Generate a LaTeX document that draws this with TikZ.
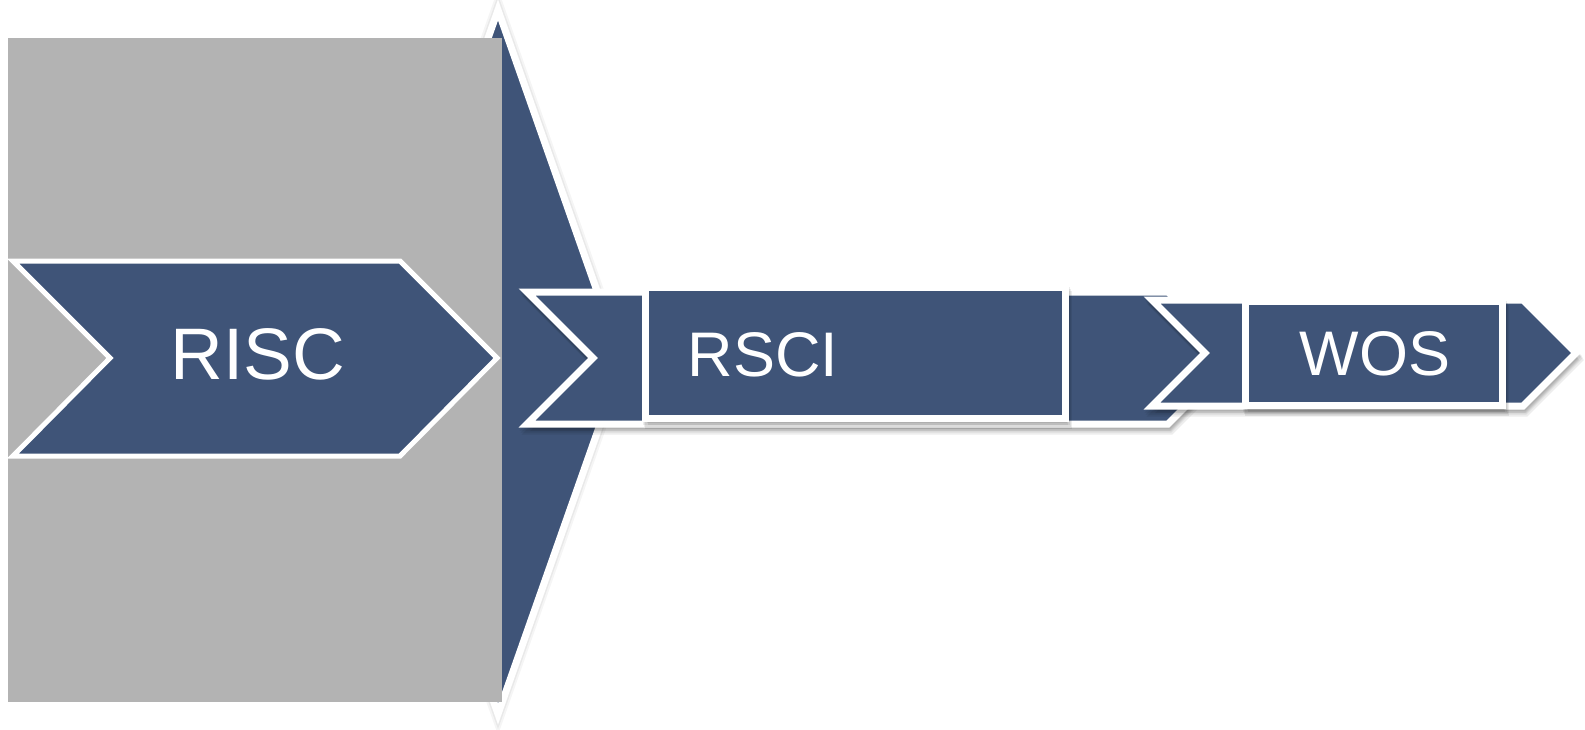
\documentclass[tikz,border=0pt]{standalone}
\usepackage{fontspec}
\setmainfont{Liberation Sans}
\definecolor{navy}{RGB}{63,84,120}
\definecolor{boxgray}{RGB}{179,179,179}
\begin{document}
\begin{tikzpicture}[x=1pt,y=-1pt,
  blueshape/.style={fill=navy, draw=white, line join=miter, miter limit=10},
  shadowlayer/.style={draw=black, fill=black, opacity=0.07, line join=miter},
  labeltext/.style={text=white, inner sep=0pt, anchor=base}]
\useasboundingbox (0,0) rectangle (1585,730);
\def\kitepath{(498,10) -- (622,362) -- (498,714) -- (374,362) -- cycle}
\def\riscpath{(13,261) -- (400,261) -- (497,358) -- (400,456) -- (13,456) -- (110,358) -- cycle}
\def\rscichev{(527,292) -- (1168,292) -- (1234,358) -- (1168,424) -- (527,424) -- (593,358) -- cycle}
\def\rscibox{(645,287) rectangle (1065,418)}
\def\woschev{(1152,300) -- (1523,300) -- (1576,353) -- (1523,406) -- (1152,406) -- (1205,353) -- cycle}
\def\wosbox{(1245,301) rectangle (1502,405)}
% big kite with soft glow
\draw[black, opacity=0.04, line width=14pt, line join=miter] \kitepath;
\draw[black, opacity=0.05, line width=10pt, line join=miter] \kitepath;
\path[blueshape, line width=7pt] \kitepath;
% grey panel
\fill[boxgray] (8,38) rectangle (502,702);
% RISC chevron
\path[blueshape, line width=5pt] \riscpath;
% RSCI chevron with shadow
\path[shadowlayer, line width=7pt, shift={(1,3)}] \rscichev;
\path[shadowlayer, line width=7pt, shift={(2,5)}] \rscichev;
\path[shadowlayer, line width=7pt, shift={(3,7)}] \rscichev;
\path[blueshape, line width=7pt] \rscichev;
% RSCI box with shadow
\path[shadowlayer, line width=7pt, shift={(1,3)}] \rscibox;
\path[shadowlayer, line width=7pt, shift={(2,5)}] \rscibox;
\path[shadowlayer, line width=7pt, shift={(3,7)}] \rscibox;
\path[blueshape, line width=7pt] \rscibox;
% WOS chevron with shadow
\path[shadowlayer, line width=7pt, shift={(1,3)}] \woschev;
\path[shadowlayer, line width=7pt, shift={(2,5)}] \woschev;
\path[shadowlayer, line width=7pt, shift={(3,7)}] \woschev;
\path[blueshape, line width=7pt] \woschev;
% WOS box with shadow
\path[shadowlayer, line width=7pt, shift={(1,3)}] \wosbox;
\path[shadowlayer, line width=7pt, shift={(2,5)}] \wosbox;
\path[shadowlayer, line width=7pt, shift={(3,7)}] \wosbox;
\path[blueshape, line width=7pt] \wosbox;
% labels
\node[labeltext, font=\fontsize{73}{80}\selectfont] (risc) at (258,379) {RISC};
\node[labeltext, font=\fontsize{63}{70}\selectfont] (rsci) at (763,376) {RSCI};
\node[labeltext, font=\fontsize{63}{70}\selectfont] (wos) at (1375,375) {WOS};
\end{tikzpicture}
\end{document}
